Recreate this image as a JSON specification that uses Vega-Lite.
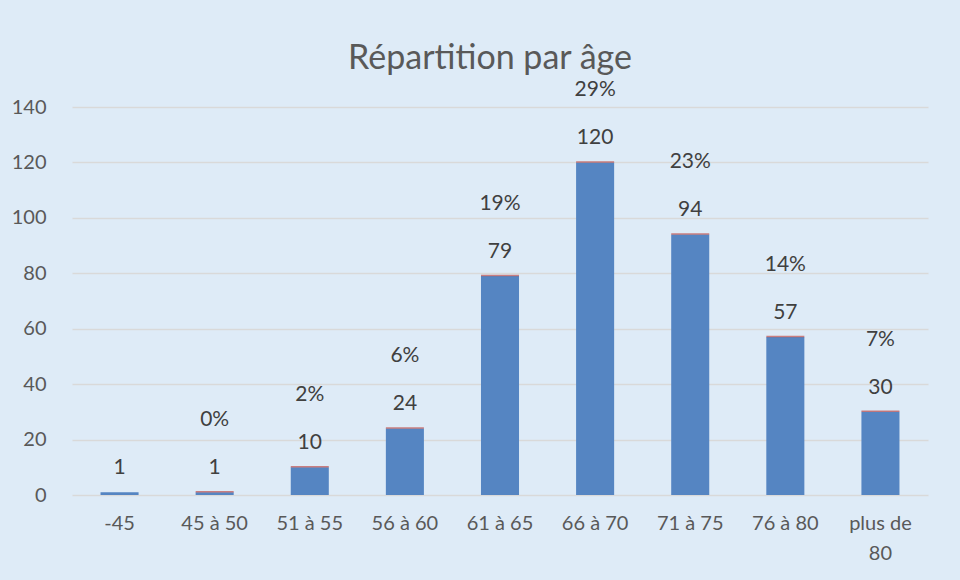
{
  "$schema": "https://vega.github.io/schema/vega-lite/v6.json",
  "autosize": "none",
  "width": 856,
  "height": 388,
  "padding": {"left": 72, "top": 107, "right": 32, "bottom": 85},
  "background": "#DEEBF7",
  "title": {
    "text": "Répartition par âge",
    "font": "Lato",
    "fontSize": 34,
    "fontWeight": "normal",
    "color": "#595959",
    "anchor": "middle",
    "dx": -10,
    "offset": 3
  },
  "config": {
    "view": {"stroke": null},
    "font": "Lato"
  },
  "data": {
    "values": [
      {"age": "-45", "count": 1, "pct": null},
      {"age": "45 à 50", "count": 1, "pct": "0%"},
      {"age": "51 à 55", "count": 10, "pct": "2%"},
      {"age": "56 à 60", "count": 24, "pct": "6%"},
      {"age": "61 à 65", "count": 79, "pct": "19%"},
      {"age": "66 à 70", "count": 120, "pct": "29%"},
      {"age": "71 à 75", "count": 94, "pct": "23%"},
      {"age": "76 à 80", "count": 57, "pct": "14%"},
      {"age": "plus de 80", "count": 30, "pct": "7%"}
    ]
  },
  "encoding": {
    "x": {
      "field": "age",
      "type": "nominal",
      "sort": null,
      "scale": {"paddingInner": 0.6, "paddingOuter": 0.3},
      "axis": {
        "title": null,
        "labelAngle": 0,
        "labelFontSize": 20,
        "labelColor": "#595959",
        "labelPadding": 18,
        "ticks": false,
        "domain": false,
        "labelExpr": "datum.label == 'plus de 80' ? ['plus de', '80'] : datum.label",
        "labelLineHeight": 30
      }
    },
    "y": {
      "field": "count",
      "type": "quantitative",
      "scale": {"domain": [0, 140]},
      "axis": {
        "title": null,
        "values": [0, 20, 40, 60, 80, 100, 120, 140],
        "labelFontSize": 20,
        "labelColor": "#595959",
        "labelPadding": 26,
        "ticks": false,
        "domain": false,
        "gridColor": "#D9D9D9",
        "gridWidth": 1.5
      }
    }
  },
  "layer": [
    {"mark": {"type": "bar", "color": "#5585C2"}},
    {
      "transform": [{"filter": "datum.pct != null"}],
      "mark": {"type": "tick", "color": "#C0504D", "size": 38, "thickness": 1.5, "yOffset": -0.5}
    },
    {
      "mark": {"type": "text", "baseline": "middle", "dy": -24, "fontSize": 21, "color": "#404040"},
      "encoding": {"text": {"field": "count", "type": "quantitative"}}
    },
    {
      "transform": [{"filter": "datum.pct != null"}],
      "mark": {"type": "text", "baseline": "middle", "dy": -72, "fontSize": 21, "color": "#404040"},
      "encoding": {"text": {"field": "pct", "type": "nominal"}}
    }
  ]
}
